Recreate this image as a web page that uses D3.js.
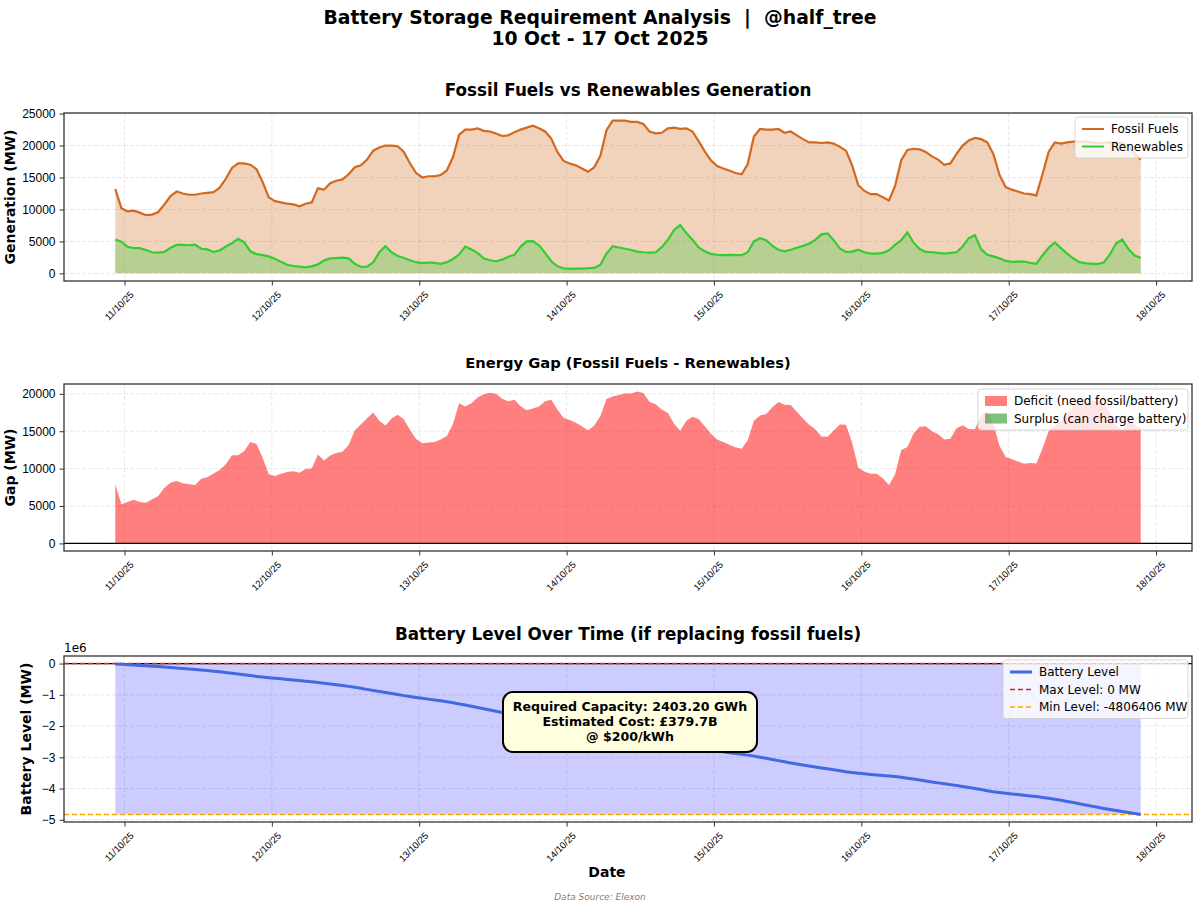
<!DOCTYPE html>
<html>
<head>
<meta charset="utf-8">
<script src="https://cdn.jsdelivr.net/npm/d3@7"></script>
<style>
  body { margin: 0; background: #fff; }
  svg { display: block; font-family: 'DejaVu Sans', sans-serif; }
  text { white-space: pre; }
</style>
</head>
<body>
<svg id="chart" width="1200" height="909"></svg>
<script>
// Hourly readings (MW), first point 10 Oct 2025 22:30, one per hour
const START = new Date(2025, 9, 10, 22, 30)
const FOSSIL = [
  13200, 10200, 9700, 9800, 9500, 9100, 9200, 9600, 10800, 12100, 12800, 12500,
  12300, 12300, 12500, 12600, 12700, 13400, 14800, 16500, 17200, 17200, 17000, 16300,
  14300, 11900, 11300, 11100, 10900, 10800, 10500, 10900, 11100, 13300, 13100, 14100,
  14500, 14700, 15500, 16600, 16900, 17800, 19200, 19700, 20000, 20000, 19900, 19000,
  17200, 15700, 15000, 15200, 15200, 15400, 16100, 18200, 21700, 22500, 22500, 22700,
  22300, 22200, 21900, 21500, 21600, 22100, 22500, 22800, 23100, 22700, 22200, 21100,
  19000, 17600, 17200, 16900, 16400, 15900, 16600, 18400, 22400, 23900, 23900, 23900,
  23700, 23700, 23400, 22200, 21900, 22000, 22700, 22800, 22600, 22700, 22200, 20700,
  19100, 17700, 16800, 16400, 16100, 15700, 15500, 17100, 21400, 22600, 22500, 22500,
  22600, 22000, 22200, 21600, 21000, 20500, 20500, 20400, 20500, 20300, 19800, 19200,
  16900, 13800, 12900, 12400, 12400, 11900, 11400, 13700, 17700, 19300, 19500, 19400,
  19000, 18300, 17800, 17000, 17200, 18700, 20000, 20800, 21200, 21000, 20500, 18700,
  15400, 13500, 13100, 12800, 12500, 12400, 12200, 15500, 19000, 20500, 20300, 20500,
  20600, 20600, 20600, 20500, 20400, 20400, 20500, 20500, 20400, 20000, 18700, 17800
]
const RENEWABLES = [
  5300, 4950, 4150, 3950, 3950, 3650, 3300, 3250, 3350, 4000, 4450, 4450,
  4400, 4500, 3850, 3750, 3350, 3600, 4200, 4700, 5400, 4850, 3450, 3000,
  2850, 2650, 2300, 1800, 1350, 1150, 1050, 950, 1100, 1400, 2000, 2350,
  2400, 2450, 2350, 1500, 1000, 1050, 1700, 3300, 4250, 3300, 2700, 2400,
  2050, 1750, 1600, 1700, 1650, 1500, 1750, 2250, 2950, 4200, 3750, 3200,
  2350, 2050, 1900, 2150, 2600, 2900, 4150, 5000, 5050, 4400, 3200, 1900,
  1100, 800, 700, 750, 750, 800, 850, 1350, 3100, 4250, 4050, 3850,
  3650, 3400, 3300, 3250, 3300, 4100, 5250, 6800, 7550, 6300, 5250, 4050,
  3450, 3050, 2900, 2850, 2900, 2850, 2850, 3300, 5000, 5500, 5200, 4300,
  3700, 3450, 3700, 4000, 4300, 4650, 5250, 6100, 6250, 5200, 3900, 3350,
  3400, 3700, 3300, 3100, 3100, 3200, 3600, 4450, 5200, 6400, 4800, 3800,
  3350, 3300, 3200, 3100, 3200, 3300, 4200, 5500, 5950, 3800, 2900, 2650,
  2350, 1950, 1800, 1850, 1850, 1650, 1500, 2800, 4000, 4850, 3950, 3100,
  2350, 1750, 1600, 1500, 1500, 1700, 3000, 4700, 5300, 3800, 2800, 2450
]
// each hourly reading stands for two half-hour settlement periods
const PERIODS_PER_POINT = 2
const Y_TICKS_GEN = [0, 5000, 10000, 15000, 20000, 25000]
const Y_TICKS_GAP = [0, 5000, 10000, 15000, 20000]
const Y_TICKS_BAT = [-5e6, -4e6, -3e6, -2e6, -1e6, 0]
const LEGEND_GEN = ['Fossil Fuels', 'Renewables']
const LEGEND_GAP = ['Deficit (need fossil/battery)', 'Surplus (can charge battery)']
const LEGEND_BAT = ['Battery Level', 'Max Level: 0 MW', 'Min Level: -4806406 MW']
const ANNOTATION = ['Required Capacity: 2403.20 GWh', 'Estimated Cost: £379.7B', '@ $200/kWh']

const rows = FOSSIL.map((f, i) => ({
  t: d3.timeHour.offset(START, i),
  fossil: f,
  renew: RENEWABLES[i],
  gap: f - RENEWABLES[i]
}))
let level = 0
rows.forEach(r => { level -= r.gap * PERIODS_PER_POINT; r.battery = level })
const batMin = d3.min(rows, r => r.battery)
const batMax = 0

const svg = d3.select('#chart')
const W = 1200, L = 64, R = 1192

// matplotlib-style 5% padding on data limits
function padded(lo, hi) {
  const m = (hi - lo) * 0.05
  return [lo - m, hi + m]
}

const t0 = rows[0].t, t1 = rows[rows.length - 1].t
const span = t1 - t0
const x = d3.scaleTime()
  .domain([new Date(+t0 - span * 0.05), new Date(+t1 + span * 0.05)])
  .range([L, R])
const dayTicks = d3.timeDay.range(new Date(2025, 9, 11), new Date(2025, 9, 19))
const fmtDay = d3.timeFormat('%d/%m/%y')

function panel(top, bottom, yDomain, yTicks, yFmt, title, titleSize, titleY, ylabel, ylabelX) {
  const y = d3.scaleLinear().domain(yDomain).range([bottom, top])
  const g = svg.append('g')

  // grid
  g.append('g').selectAll('line').data(dayTicks).join('line')
    .attr('x1', d => x(d)).attr('x2', d => x(d)).attr('y1', top).attr('y2', bottom)
    .attr('stroke', '#b0b0b0').attr('stroke-opacity', 0.3).attr('stroke-dasharray', '4,2')
  g.append('g').selectAll('line').data(yTicks).join('line')
    .attr('x1', L).attr('x2', R).attr('y1', d => y(d)).attr('y2', d => y(d))
    .attr('stroke', '#b0b0b0').attr('stroke-opacity', 0.3).attr('stroke-dasharray', '4,2')

  const plot = g.append('g')

  // axes
  const xa = g.append('g').attr('transform', `translate(0,${bottom})`)
    .call(d3.axisBottom(x).tickValues(dayTicks).tickFormat(fmtDay).tickSize(4.5).tickPadding(3))
  xa.selectAll('text')
    .attr('font-size', 9.5).attr('text-anchor', 'end').attr('dy', null).attr('fill', '#000')
    .attr('transform', 'translate(4,9) rotate(-45)')
  const ya = g.append('g').attr('transform', `translate(${L},0)`)
    .call(d3.axisLeft(y).tickValues(yTicks).tickFormat(yFmt).tickSize(4.5).tickPadding(4))
  ya.selectAll('text').attr('font-size', 12).attr('fill', '#000')
  g.selectAll('.domain').remove()
  g.selectAll('.tick line').attr('stroke', '#333')

  g.append('rect').attr('x', L).attr('y', top).attr('width', R - L).attr('height', bottom - top)
    .attr('fill', 'none').attr('stroke', '#333').attr('stroke-width', 1.3)

  g.append('text').attr('x', (L + R) / 2).attr('y', titleY).attr('text-anchor', 'middle')
    .attr('font-size', titleSize).attr('font-weight', 'bold').text(title)
  g.append('text').attr('transform', `translate(${ylabelX},${(top + bottom) / 2}) rotate(-90)`)
    .attr('text-anchor', 'middle').attr('font-size', 14).attr('font-weight', 'bold').text(ylabel)

  return { y, plot, top, bottom }
}

function legend(x1, y1, w, items) {
  const g = svg.append('g')
  g.append('rect').attr('x', x1 - w).attr('y', y1).attr('width', w).attr('height', items.length * 17.5 + 6)
    .attr('rx', 3).attr('fill', '#fff').attr('fill-opacity', 0.8).attr('stroke', '#ccc').attr('stroke-opacity', 0.8)
  items.forEach((it, i) => {
    const cy = y1 + 12 + i * 17.5
    if (it.patch) {
      g.append('rect').attr('x', x1 - w + 7).attr('y', cy - 5).attr('width', 22).attr('height', 10)
        .attr('fill', it.color).attr('fill-opacity', 0.5)
    } else {
      g.append('line').attr('x1', x1 - w + 7).attr('x2', x1 - w + 29).attr('y1', cy).attr('y2', cy)
        .attr('stroke', it.color).attr('stroke-width', it.width || 2)
        .attr('stroke-dasharray', it.dash || null)
    }
    g.append('text').attr('x', x1 - w + 36).attr('y', cy).attr('dy', '0.35em')
      .attr('font-size', 12).text(it.label)
  })
}

// super title
svg.append('text').attr('x', W / 2).attr('y', 24).attr('text-anchor', 'middle')
  .attr('font-size', 18.8).attr('font-weight', 'bold')
  .text('Battery Storage Requirement Analysis  |  @half_tree')
svg.append('text').attr('x', W / 2).attr('y', 45).attr('text-anchor', 'middle')
  .attr('font-size', 18.8).attr('font-weight', 'bold').text('10 Oct - 17 Oct 2025')

// ── Panel 1: generation ──
const p1 = panel(113, 281, padded(0, d3.max(rows, r => r.fossil)), Y_TICKS_GEN, d3.format('d'),
  'Fossil Fuels vs Renewables Generation', 16.8, 96, 'Generation (MW)', 15)
const FOSSIL_C = '#d2691e', RENEW_C = '#32cd32'
p1.plot.append('path').datum(rows)
  .attr('d', d3.area().x(d => x(d.t)).y0(p1.y(0)).y1(d => p1.y(d.fossil)))
  .attr('fill', FOSSIL_C).attr('fill-opacity', 0.3)
p1.plot.append('path').datum(rows)
  .attr('d', d3.area().x(d => x(d.t)).y0(p1.y(0)).y1(d => p1.y(d.renew)))
  .attr('fill', RENEW_C).attr('fill-opacity', 0.3)
p1.plot.append('path').datum(rows)
  .attr('d', d3.line().x(d => x(d.t)).y(d => p1.y(d.fossil)))
  .attr('fill', 'none').attr('stroke', FOSSIL_C).attr('stroke-width', 2.2)
p1.plot.append('path').datum(rows)
  .attr('d', d3.line().x(d => x(d.t)).y(d => p1.y(d.renew)))
  .attr('fill', 'none').attr('stroke', RENEW_C).attr('stroke-width', 2.2)
legend(1188, 117, 113, [
  { label: LEGEND_GEN[0], color: FOSSIL_C },
  { label: LEGEND_GEN[1], color: RENEW_C }
])

// ── Panel 2: energy gap ──
const gapExt = d3.extent(rows, r => r.gap)
const p2 = panel(384, 551, padded(Math.min(0, gapExt[0]), Math.max(0, gapExt[1])), Y_TICKS_GAP, d3.format('d'),
  'Energy Gap (Fossil Fuels - Renewables)', 14.7, 368, 'Gap (MW)', 15)
p2.plot.append('path').datum(rows)
  .attr('d', d3.area().x(d => x(d.t)).y0(p2.y(0)).y1(d => p2.y(Math.max(0, d.gap))))
  .attr('fill', 'red').attr('fill-opacity', 0.5)
p2.plot.append('path').datum(rows)
  .attr('d', d3.area().x(d => x(d.t)).y0(p2.y(0)).y1(d => p2.y(Math.min(0, d.gap))))
  .attr('fill', 'green').attr('fill-opacity', 0.5)
p2.plot.append('line').attr('x1', L).attr('x2', R).attr('y1', p2.y(0)).attr('y2', p2.y(0))
  .attr('stroke', '#000').attr('stroke-width', 1.2)
legend(1188, 389, 210, [
  { label: LEGEND_GAP[0], color: 'red', patch: true },
  { label: LEGEND_GAP[1], color: 'green', patch: true }
])

// ── Panel 3: battery level ──
const fmtBat = d => d3.format('d')(d / 1e6).replace('-', '\u2212')
const p3 = panel(656, 822, padded(batMin, batMax), Y_TICKS_BAT, fmtBat,
  'Battery Level Over Time (if replacing fossil fuels)', 16.8, 640, 'Battery Level (MW)', 31)
p3.plot.append('path').datum(rows)
  .attr('d', d3.area().x(d => x(d.t)).y0(p3.y(batMin)).y1(p3.y(batMax)))
  .attr('fill', 'blue').attr('fill-opacity', 0.2)
p3.plot.append('line').attr('x1', L).attr('x2', R).attr('y1', p3.y(0)).attr('y2', p3.y(0))
  .attr('stroke', '#000').attr('stroke-width', 1.2)
p3.plot.append('line').attr('x1', L).attr('x2', R).attr('y1', p3.y(batMax)).attr('y2', p3.y(batMax))
  .attr('stroke', '#d62728').attr('stroke-width', 1.5).attr('stroke-dasharray', '5,3')
p3.plot.append('line').attr('x1', L).attr('x2', R).attr('y1', p3.y(batMin)).attr('y2', p3.y(batMin))
  .attr('stroke', 'orange').attr('stroke-width', 1.5).attr('stroke-dasharray', '5,3')
p3.plot.append('path').datum(rows)
  .attr('d', d3.line().x(d => x(d.t)).y(d => p3.y(d.battery)))
  .attr('fill', 'none').attr('stroke', 'royalblue').attr('stroke-width', 3)
svg.append('text').attr('x', L).attr('y', 652).attr('font-size', 12).text('1e6')
legend(1188, 660, 185, [
  { label: LEGEND_BAT[0], color: 'royalblue', width: 3 },
  { label: LEGEND_BAT[1], color: '#d62728', dash: '5,3', width: 1.5 },
  { label: LEGEND_BAT[2], color: 'orange', dash: '5,3', width: 1.5 }
])

// capacity annotation box
const ann = svg.append('g')
ann.append('rect').attr('x', 503).attr('y', 692).attr('width', 254).attr('height', 60).attr('rx', 10)
  .attr('fill', '#ffffe0').attr('stroke', '#000').attr('stroke-width', 2)
ANNOTATION.forEach((s, i) => {
  ann.append('text').attr('x', 630).attr('y', 711 + i * 15).attr('text-anchor', 'middle')
    .attr('font-size', 12.6).attr('font-weight', 'bold').text(s)
})

svg.append('text').attr('x', 607).attr('y', 877).attr('text-anchor', 'middle')
  .attr('font-size', 14).attr('font-weight', 'bold').text('Date')
svg.append('text').attr('x', 600).attr('y', 900).attr('text-anchor', 'middle')
  .attr('font-size', 9).attr('font-style', 'italic').attr('fill', '#808080').text('Data Source: Elexon')
</script>
</body>
</html>
